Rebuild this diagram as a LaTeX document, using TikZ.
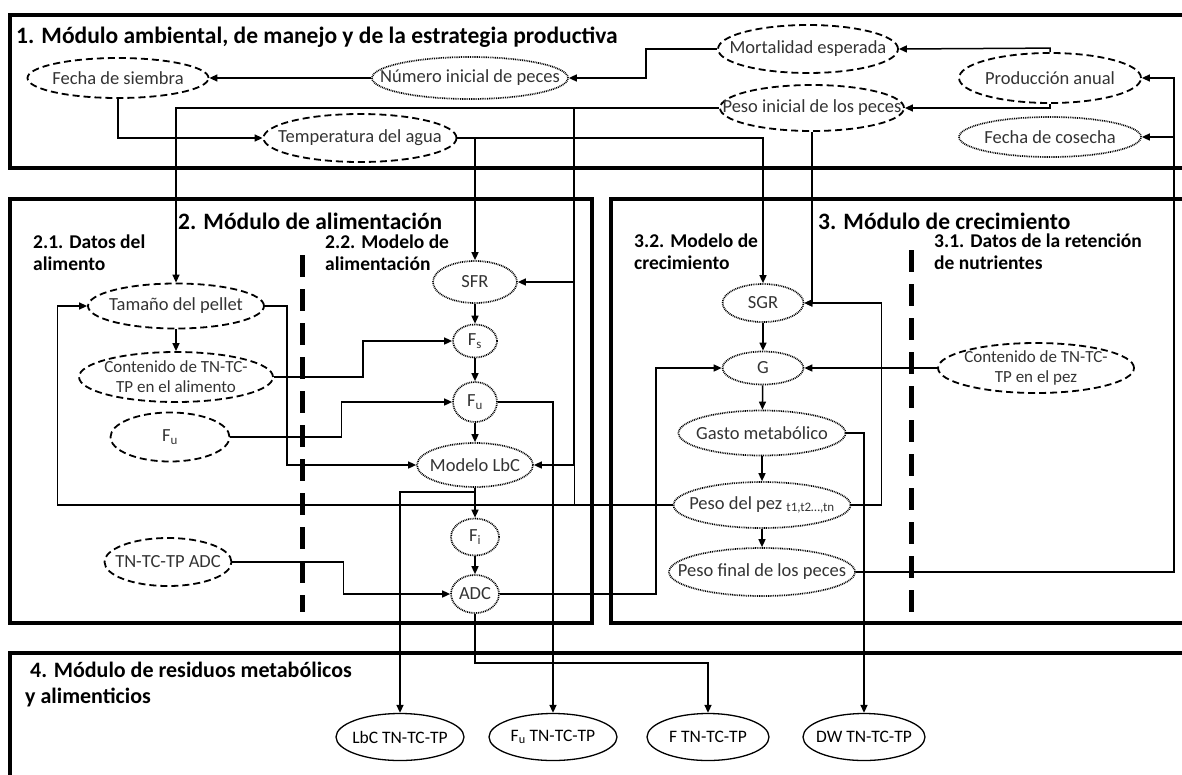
\documentclass[tikz,border=0pt]{standalone}
\usepackage{fontspec}
\setmainfont{Carlito}
\usetikzlibrary{arrows.meta,shapes.geometric}
\definecolor{txtgray}{HTML}{333333}

\begin{document}
\begin{tikzpicture}[x=1pt,y=-1pt,
  base/.style={ellipse,inner xsep=-30pt,inner ysep=-8pt,align=center,text=txtgray,font=\fontsize{18.5}{21}\selectfont},
  inp/.style={base,draw,dash pattern=on 7pt off 4pt,line width=1.8pt},
  calc/.style={base,draw,dash pattern=on 0.9pt off 0.9pt,line width=1.7pt},
  outp/.style={base,draw,line width=1.3pt,text=black,font=\fontsize{17.5}{21}\selectfont},
  twoline/.style={font=\fontsize{17}{20}\selectfont},
  modbox/.style={line width=4pt},
  sepline/.style={line width=5pt,dash pattern=on 22pt off 12pt},
  link/.style={line width=1.5pt,-{Triangle[length=8pt,width=7pt]}},
  ttl/.style={anchor=west,inner sep=0pt,font=\bfseries\fontsize{23.5}{26}\selectfont},
  subttl/.style={anchor=north west,align=left,inner sep=0pt,font=\bfseries\fontsize{19.5}{22}\selectfont}]
\useasboundingbox (0,0) rectangle (1182,774);
% module frames
\draw[modbox] (10,15) rectangle (1200,168);
\draw[modbox] (10,199) rectangle (592,623);
\draw[modbox] (611,199) rectangle (1200,623);
\draw[modbox] (10,653) rectangle (1200,800);
\draw[sepline] (302,255) -- (302,612);
\draw[sepline] (911,250) -- (911,612);
% titles
\node[ttl] (t1) at (16,37) {1. Módulo ambiental, de manejo y de la estrategia productiva};
\node[ttl] (t2) at (178,221) {2. Módulo de alimentación};
\node[ttl] (t3) at (818,221) {3. Módulo de crecimiento};
\node[subttl] (t21) at (33,235) {2.1. Datos del\\alimento};
\node[subttl] (t22) at (325,235) {2.2. Modelo de\\alimentación};
\node[subttl] (t32) at (634,234) {3.2. Modelo de\\crecimiento};
\node[subttl] (t31) at (934,234) {3.1. Datos de la retención\\de nutrientes};
\node[ttl,anchor=north west,align=left,font=\bfseries\fontsize{22}{26}\selectfont] (t4) at (25,662) {\ 4. Módulo de residuos metabólicos\\y alimenticios};
% module 1
\node[inp,minimum width=181pt,minimum height=40pt] (siembra) at (118,78) {Fecha de siembra};
\node[calc,minimum width=196pt,minimum height=42pt] (numero) at (470,78) {Número inicial de peces};
\node[inp,minimum width=180pt,minimum height=48pt] (mortal) at (808,49) {Mortalidad esperada};
\node[inp,minimum width=182pt,minimum height=50pt] (prod) at (1050,78) {Producción anual};
\node[inp,minimum width=184pt,minimum height=46pt] (pesoini) at (812,108) {Peso inicial de los peces};
\node[inp,minimum width=193pt,minimum height=48pt] (temp) at (360,138) {Temperatura del agua};
\node[calc,minimum width=182pt,minimum height=40pt] (cosecha) at (1050,137) {Fecha de cosecha};
% module 2
\node[inp,minimum width=176pt,minimum height=45pt] (pellet) at (176,306) {Tamaño del pellet};
\node[inp,twoline,minimum width=194pt,minimum height=50pt] (contal) at (176,377) {Contenido de TN-TC-\\TP en el alimento};
\node[inp,minimum width=119pt,minimum height=49pt] (fuin) at (170,437) {F\textsubscript{u}};
\node[inp,minimum width=127pt,minimum height=48pt] (adcin) at (168,562) {TN-TC-TP ADC};
\node[calc,minimum width=84pt,minimum height=42pt] (sfr) at (475,282) {SFR};
\node[calc,minimum width=44pt,minimum height=33pt] (fs) at (475,341) {F\textsubscript{s}};
\node[calc,minimum width=44pt,minimum height=40pt] (fu) at (475,402) {F\textsubscript{u}};
\node[calc,minimum width=116pt,minimum height=44pt] (lbc) at (475,465) {Modelo LbC};
\node[calc,minimum width=48pt,minimum height=37pt] (fi) at (475,537) {F\textsubscript{i}};
\node[calc,minimum width=48pt,minimum height=38pt] (adc) at (475,594) {ADC};
% module 3
\node[calc,minimum width=81pt,minimum height=38pt] (sgr) at (763,303) {SGR};
\node[calc,minimum width=81pt,minimum height=33pt] (g) at (763,368) {G};
\node[inp,twoline,minimum width=196pt,minimum height=50pt] (contpez) at (1036,368) {Contenido de TN-TC-\\TP en el pez};
\node[calc,minimum width=167pt,minimum height=45pt] (gasto) at (762,433) {Gasto metabólico};
\node[calc,minimum width=177pt,minimum height=46pt] (pesopez) at (762,505) {Peso del pez \textsubscript{t1,t2…,tn}};
\node[calc,minimum width=186pt,minimum height=48pt] (pesofin) at (762,572) {Peso final de los peces};
% module 4
\node[outp,minimum width=128pt,minimum height=47pt] (outlbc) at (400,737) {LbC TN-TC-TP};
\node[outp,minimum width=128pt,minimum height=47pt] (outfu) at (553,737) {F\textsubscript{u} TN-TC-TP};
\node[outp,minimum width=122pt,minimum height=47pt] (outf) at (708,737) {F TN-TC-TP};
\node[outp,minimum width=122pt,minimum height=47pt] (outdw) at (864,737) {DW TN-TC-TP};
% connectors
\coordinate (jini) at (574,108);
\draw[link] (mortal.west) -- ++(-71,0) |- (numero.east);
\draw[link] (numero.west) -- (siembra.east);
\draw[link] (siembra.south) |- (temp.west);
\draw[link] (prod.north) -- ++(0,-4) -- (mortal.east);
\draw[link] (prod.south) |- (pesoini.east);
\draw[link] (pesoini.west) -| (pellet.north);
\draw[link] (jini) |- (sfr.east);
\draw[link] (jini) |- (lbc.east);
\draw (jini) -- (jini |- pesopez.west);
\draw[link] (temp.east) -| (sfr.north);
\draw[link] (temp.east) -| (sgr.north);
\draw[link] (pesoini.south) |- (sgr.east);
\draw[link] (pesopez.east) -- ++(30,0) |- (sgr.east);
\draw[link] (pesofin.east) -- ++(318,0) |- (prod.east);
\draw[link] (pesofin.east) -- ++(318,0) |- (cosecha.east);
\draw[link] (pesopez.west) -- ++(-615,0) |- (pellet.west);
\draw[link] (pellet) -- (contal);
\draw[link] (pellet.east) -- ++(22,0) |- (lbc.west);
\draw[link] (contal.east) -- ++(89,0) |- (fs.west);
\draw[link] (fuin.east) -- ++(111,0) |- (fu.west);
\draw[link] (adcin.east) -- ++(111,0) |- (adc.west);
\draw[link] (sfr) -- (fs);
\draw[link] (fs) -- (fu);
\draw[link] (fu) -- (lbc);
\draw[link] (lbc) -- (fi);
\draw[link] (fi) -- (adc);
\draw[link] (fu.east) -| (outfu.north);
\draw[link] (lbc.south) -- ++(0,4) -| (outlbc.north);
\draw[link] (adc.south) -- ++(0,49) -| (outf.north);
\draw[link] (adc.east) -- ++(156,0) |- (g.west);
\draw[link] (contpez) -- (g);
\draw[link] (sgr) -- (g);
\draw[link] (g) -- (gasto);
\draw[link] (gasto) -- (pesopez);
\draw[link] (pesopez) -- (pesofin);
\draw[link] (gasto.east) -| (outdw.north);
\end{tikzpicture}
\end{document}
